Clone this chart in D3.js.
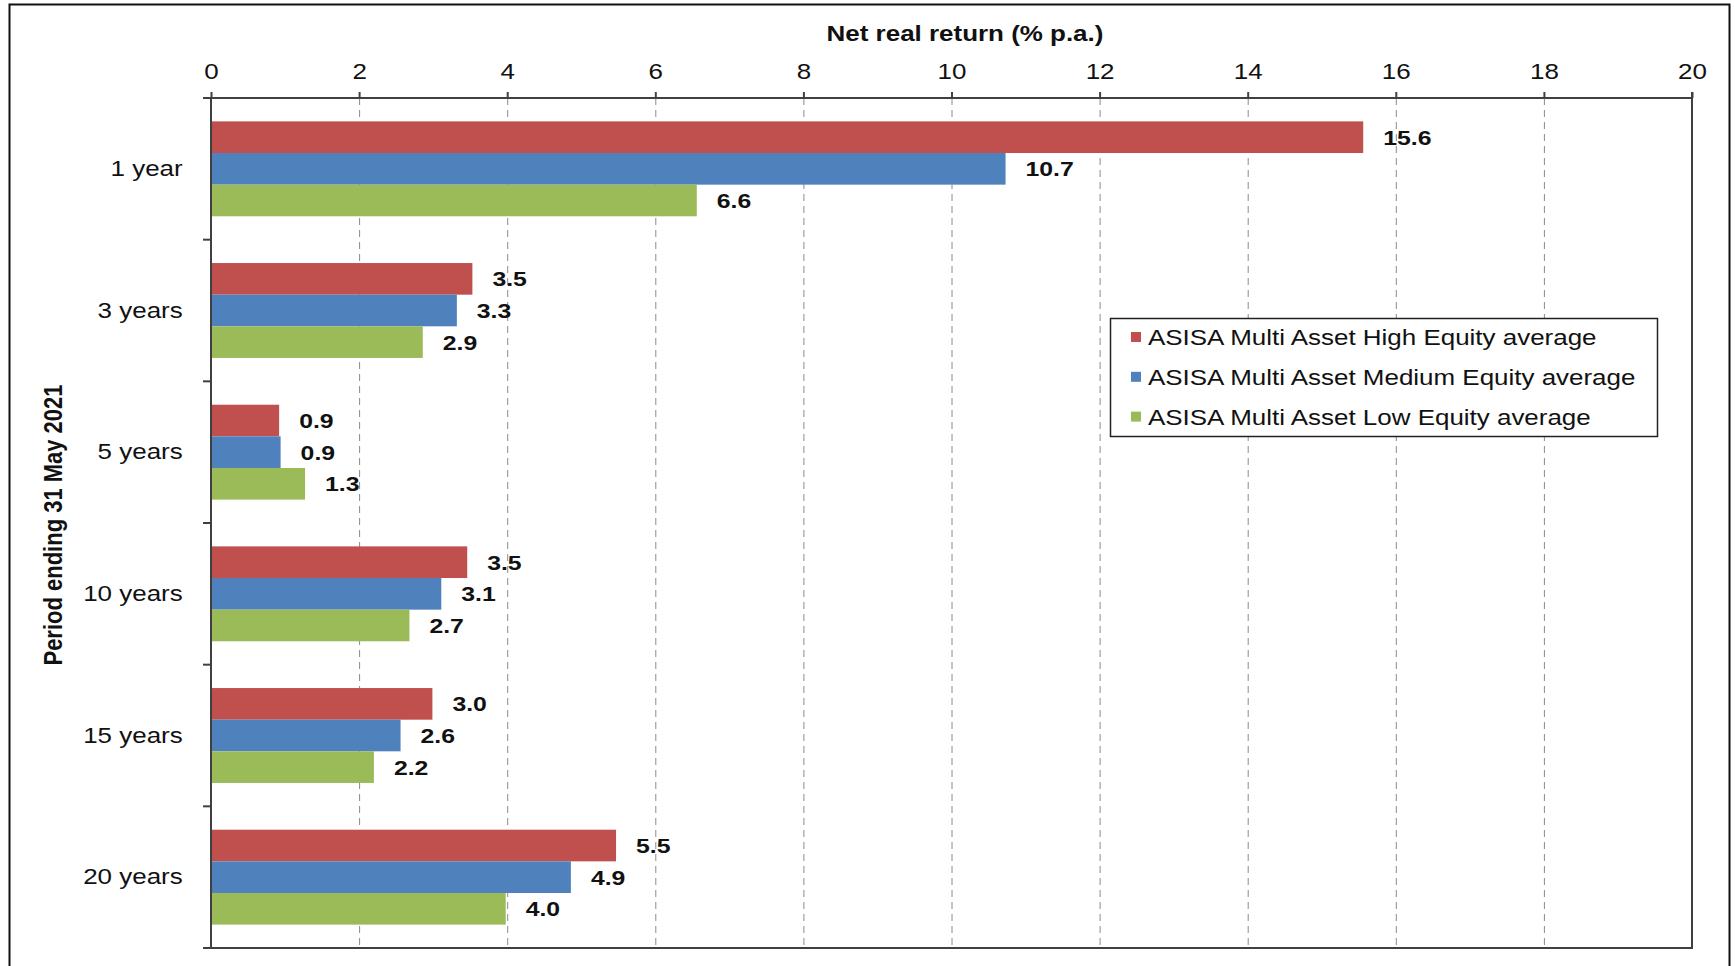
<!DOCTYPE html>
<meta charset="utf-8">
<style>
  body { margin: 0; background: #fff; }
  text { font-family: "Liberation Sans", Arial, sans-serif; fill: #111; }
  .grid line { stroke: #8a8a8a; stroke-width: 1; stroke-dasharray: 7,5; }
  .axis path, .axis line { stroke: #404040; stroke-width: 2; }
  .domain { stroke: #404040; }
</style>
<body></body>
<script src="https://d3js.org/d3.v7.min.js"></script>
<script>

// data
var periods = ["1 year", "3 years", "5 years", "10 years", "15 years", "20 years"];
var seriesNames = ["ASISA Multi Asset High Equity average",
                   "ASISA Multi Asset Medium Equity average",
                   "ASISA Multi Asset Low Equity average"];
var highEquity   = [15.56, 3.53, 0.92, 3.46, 2.99, 5.47];
var mediumEquity = [10.73, 3.32, 0.94, 3.11, 2.56, 4.86];
var lowEquity    = [6.56, 2.86, 1.27, 2.68, 2.20, 3.98];
var xTicks = [0, 2, 4, 6, 8, 10, 12, 14, 16, 18, 20];

var colors = ["#C0504D", "#4F81BD", "#9BBB59"];
var allSeries = [highEquity, mediumEquity, lowEquity];

var W = 1735, H = 966;
var plot = {left: 211, right: 1692, top: 98, bottom: 948};
var sx = 1.18; // the reference text is a bit wider than plain Arial

var svg = d3.select("body").append("svg")
    .attr("width", W)
    .attr("height", H);

// outer frame
svg.append("rect")
    .attr("x", 9.5).attr("y", 4.5)
    .attr("width", 1720).attr("height", 980)
    .attr("fill", "none")
    .attr("stroke", "#111")
    .attr("stroke-width", 2);

var x = d3.scaleLinear()
    .domain([0, 20])
    .range([plot.left, plot.right]);

var y0 = d3.scaleBand()
    .domain(periods)
    .range([plot.top, plot.bottom])
    .paddingInner(0.33)
    .paddingOuter(0.165);

var y1 = d3.scaleBand()
    .domain(d3.range(3))
    .range([0, y0.bandwidth()]);

// dashed gridlines
svg.append("g")
    .attr("class", "grid")
    .selectAll("line")
    .data(xTicks.filter(function(d) { return d > 0 && d < 20; }))
  .join("line")
    .attr("x1", function(d) { return x(d) + 0.5; })
    .attr("x2", function(d) { return x(d) + 0.5; })
    .attr("y1", plot.top)
    .attr("y2", plot.bottom);

// bars
var rows = periods.map(function(p, i) {
  return {period: p, values: allSeries.map(function(s) { return s[i]; })};
});

var groups = svg.append("g")
  .selectAll("g")
  .data(rows)
  .join("g")
    .attr("transform", function(d) { return "translate(0," + y0(d.period) + ")"; });

groups.selectAll("rect")
  .data(function(d) { return d.values; })
  .join("rect")
    .attr("x", x(0))
    .attr("y", function(d, i) { return y1(i); })
    .attr("width", function(d) { return x(d) - x(0); })
    .attr("height", y1.bandwidth())
    .attr("fill", function(d, i) { return colors[i]; });

// value labels
groups.selectAll("text")
  .data(function(d) { return d.values; })
  .join("text")
    .attr("transform", function(d, i) {
      return "translate(" + (x(d) + 20) + "," + (y1(i) + y1.bandwidth() / 2) + ") scale(" + sx + ",1)";
    })
    .attr("dy", "0.36em")
    .style("font-size", "21px")
    .style("font-weight", "bold")
    .text(function(d) { return d.toFixed(1); });

// top axis
var xAxis = svg.append("g")
    .attr("class", "axis")
    .attr("transform", "translate(0," + plot.top + ")")
    .call(d3.axisTop(x).tickValues(xTicks).tickSize(6).tickSizeOuter(0).tickPadding(13));
xAxis.select(".domain").remove();
xAxis.append("line")
    .attr("x1", plot.left - 8).attr("x2", plot.right + 1)
    .attr("y1", 0).attr("y2", 0);
xAxis.selectAll("text")
    .attr("transform", "scale(" + sx + ",1)")
    .style("font-size", "22px")
    .attr("fill", "#111");

// left axis (labels at band centres, ticks at band edges)
var yAxis = svg.append("g")
    .attr("class", "axis")
    .attr("transform", "translate(" + plot.left + ",0)")
    .call(d3.axisLeft(y0).tickSize(0).tickPadding(24));
yAxis.select(".domain").remove();
yAxis.selectAll("text")
    .attr("transform", "scale(" + sx + ",1)")
    .attr("x", -24)
    .style("font-size", "22px")
    .attr("fill", "#111");
yAxis.append("line")
    .attr("x1", 0).attr("x2", 0)
    .attr("y1", plot.top - 1).attr("y2", plot.bottom + 1);
var edges = periods.map(function(p) { return y0(p) - y0.step() * y0.paddingInner() / 2; });
edges.push(plot.bottom);
edges[0] = plot.top;
yAxis.selectAll(".edge")
  .data(edges)
  .join("line")
    .attr("class", "edge")
    .attr("x1", -8).attr("x2", 0)
    .attr("y1", function(d) { return d; })
    .attr("y2", function(d) { return d; });

// plot frame right and bottom
svg.append("line")
    .attr("x1", plot.right).attr("x2", plot.right)
    .attr("y1", plot.top - 6).attr("y2", plot.bottom + 1)
    .attr("stroke", "#404040").attr("stroke-width", 2);
svg.append("line")
    .attr("x1", plot.left - 8).attr("x2", plot.right + 1)
    .attr("y1", plot.bottom).attr("y2", plot.bottom)
    .attr("stroke", "#404040").attr("stroke-width", 2);

// axis titles
svg.append("text")
    .attr("transform", "translate(" + 965 + ",41) scale(" + sx + ",1)")
    .attr("text-anchor", "middle")
    .style("font-size", "22px")
    .style("font-weight", "bold")
    .text("Net real return (% p.a.)");

svg.append("text")
    .attr("transform", "translate(62,525) rotate(-90) scale(1," + sx + ")")
    .attr("text-anchor", "middle")
    .style("font-size", "22px")
    .style("font-weight", "bold")
    .text("Period ending 31 May 2021");

// legend
var legend = svg.append("g")
    .attr("transform", "translate(1110,318)");
legend.append("rect")
    .attr("x", 0.5).attr("y", 0.5)
    .attr("width", 547).attr("height", 118)
    .attr("fill", "#fff")
    .attr("stroke", "#222")
    .attr("stroke-width", 1.5);
var items = legend.selectAll(".item")
  .data(seriesNames)
  .join("g")
    .attr("class", "item")
    .attr("transform", function(d, i) { return "translate(21," + (19 + i * 39.8) + ")"; });
items.append("rect")
    .attr("x", 0).attr("y", -5)
    .attr("width", 10).attr("height", 10)
    .attr("fill", function(d, i) { return colors[i]; });
items.append("text")
    .attr("transform", "translate(17,0) scale(" + sx + ",1)")
    .attr("dy", "0.36em")
    .style("font-size", "22px")
    .text(function(d) { return d; });

</script>
